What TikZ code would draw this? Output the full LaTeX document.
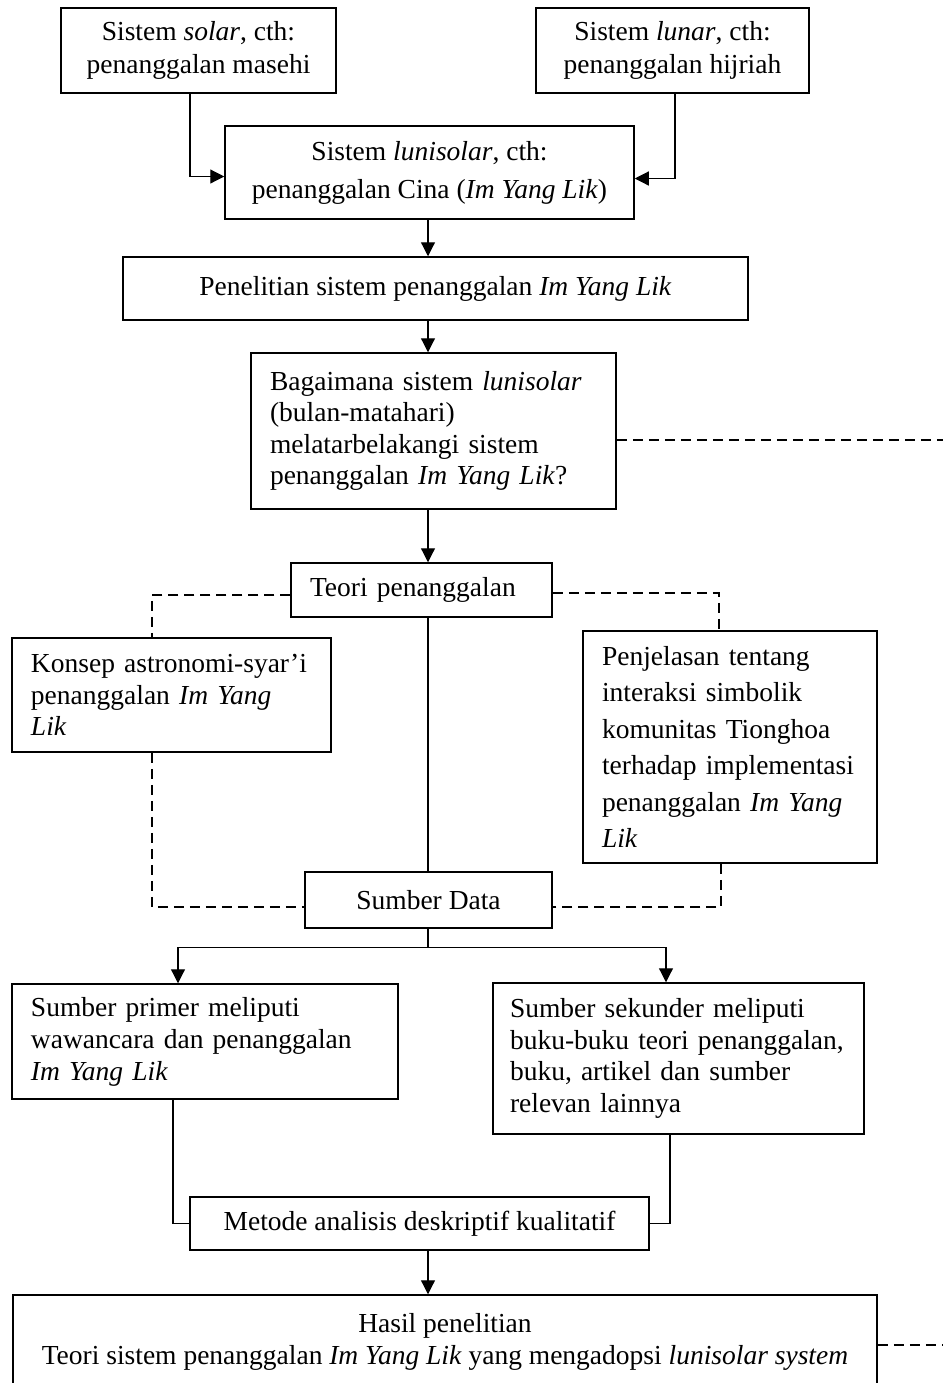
\documentclass[tikz,border=0pt]{standalone}
\usepackage{fontspec}
\setmainfont{Liberation Serif}
\usetikzlibrary{calc,arrows.meta}

\tikzset{
  kotak/.style={draw, line width=0.75pt, inner sep=0pt, align=center,
    font=\fontsize{13.75}{15.75}\selectfont},
  kiri/.style={align=left, inner xsep=9.5pt},
  garis/.style={line width=0.6pt},
  panah/.style={garis, -{Triangle[length=7pt,width=7pt]}},
  putus/.style={line width=0.75pt, dash pattern=on 5pt off 3pt}
}

\begin{document}
\begin{tikzpicture}[x=0.5pt,y=-0.5pt]
\useasboundingbox (0,0) rectangle (943,1383);
\clip (0,0) rectangle (943,1383);
\coordinate (poros) at (428,0);
\coordinate (ujung1) at (950,440);
\coordinate (ujung2) at (950,1345);

\node[kotak, minimum width=137.5pt, minimum height=42.5pt,
  font=\fontsize{13.75}{16.5}\selectfont] (solar) at (198.5,50.5)
  {Sistem \textit{solar}, cth:\\penanggalan masehi};
\node[kotak, minimum width=136.5pt, minimum height=42.5pt,
  font=\fontsize{13.75}{16.5}\selectfont] (lunar) at (672.5,50.5)
  {Sistem \textit{lunar}, cth:\\penanggalan hijriah};
\node[kotak, minimum width=204.5pt, minimum height=46.5pt,
  font=\fontsize{13.75}{19}\selectfont] (luni) at (429.5,172.5)
  {Sistem \textit{lunisolar}, cth:\\penanggalan Cina (\textit{Im Yang Lik})};
\node[kotak, minimum width=312.5pt, minimum height=31.5pt] (penelitian) at (435.5,288.5)
  {Penelitian sistem penanggalan \textit{Im Yang Lik}};
\node[kotak, kiri, text width=163.5pt, minimum height=78pt] (bagaimana) at (433.5,431)
  {Bagaimana sistem \textit{lunisolar}\\(bulan-matahari)\\melatarbelakangi sistem\\penanggalan \textit{Im Yang Lik}?};
\node[kotak, kiri, text width=111.5pt, minimum height=27pt] (teori) at (421.5,590)
  {Teori penanggalan};
\node[kotak, kiri, text width=140.5pt, minimum height=57pt] (konsep) at (171.5,695)
  {Konsep astronomi-syar’i\\penanggalan \textit{Im Yang}\\\textit{Lik}};
\node[kotak, kiri, text width=128pt, minimum height=116pt,
  font=\fontsize{13.75}{18.2}\selectfont] (penjelasan) at (730,747)
  {Penjelasan tentang\\interaksi simbolik\\komunitas Tionghoa\\terhadap implementasi\\penanggalan \textit{Im Yang}\\\textit{Lik}};
\node[kotak, minimum width=123.5pt, minimum height=28pt] (sumberdata) at (428.5,900)
  {Sumber Data};
\node[kotak, kiri, text width=174pt, minimum height=57.5pt,
  font=\fontsize{13.75}{16}\selectfont] (primer) at (205,1041.5)
  {Sumber primer meliputi\\wawancara dan penanggalan\\\textit{Im Yang Lik}};
\node[kotak, kiri, inner xsep=8.5pt, text width=168.5pt, minimum height=75.5pt] (sekunder) at (678.5,1058.5)
  {Sumber sekunder meliputi\\buku-buku teori penanggalan,\\buku, artikel dan sumber\\relevan lainnya};
\node[kotak, minimum width=229.5pt, minimum height=26.5pt] (metode) at (419.5,1223.5)
  {Metode analisis deskriptif kualitatif};
\node[kotak, minimum width=432pt, minimum height=47pt,
  font=\fontsize{13.75}{16}\selectfont] (hasil) at (445,1342)
  {Hasil penelitian\\Teori sistem penanggalan \textit{Im Yang Lik} yang mengadopsi \textit{lunisolar system}};

\draw[panah] ($(solar.south)+(-8.5,0)$) |- ($(luni.west)+(0,4)$);
\draw[panah] ($(lunar.south)+(2.5,0)$) |- ($(luni.east)+(0,6)$);
\draw[panah] (luni.south -| poros) -- (penelitian.north -| poros);
\draw[panah] (penelitian.south -| poros) -- (bagaimana.north -| poros);
\draw[panah] (bagaimana.south -| poros) -- (teori.north -| poros);
\draw[garis] (teori.south -| poros) -- (sumberdata.north -| poros);
\draw[garis] (sumberdata.south -| poros) -- ++(0,19) coordinate (cabang);
\draw[panah] (cabang) -| ($(primer.north)+(-27,0)$);
\draw[panah] (cabang) -| ($(sekunder.north)+(-12.5,0)$);
\draw[garis] ($(primer.south)+(-32,0)$) |- (metode.west);
\draw[garis] ($(sekunder.south)+(-8.5,0)$) |- (metode.east);
\draw[panah] (metode.south -| poros) -- (hasil.north -| poros);

\draw[putus] (bagaimana.east |- ujung1) -- (ujung1);
\draw[putus] (hasil.east |- ujung2) -- (ujung2);
\draw[putus] ($(teori.west)+(0,5)$) -| ($(konsep.north)+(-19.5,0)$);
\draw[putus] ($(teori.east)+(0,3)$) -| ($(penjelasan.north)+(-11,0)$);
\draw[putus] ($(konsep.south)+(-19.5,0)$) |- ($(sumberdata.west)+(0,7)$);
\draw[putus] ($(penjelasan.south)+(-9,0)$) |- ($(sumberdata.east)+(0,7)$);
\end{tikzpicture}
\end{document}
